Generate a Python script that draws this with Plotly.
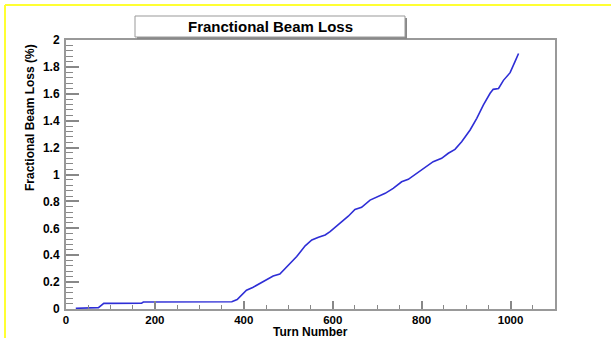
import plotly.graph_objects as go

turns = [22, 50, 73, 85, 120, 170, 174, 250, 330, 373, 385, 391, 399, 406, 420, 436, 451, 466, 481,
         500, 519, 538, 553, 568, 583, 594, 616, 635, 650, 665, 684, 703, 718, 736, 755, 770,
         789, 808, 826, 845, 860, 875, 890, 909, 924, 939, 954, 961, 973, 984, 999, 1010, 1018]
loss = [0.005, 0.006, 0.01, 0.042, 0.042, 0.044, 0.052, 0.052, 0.052, 0.054, 0.07, 0.09, 0.11, 0.14, 0.16, 0.19, 0.215, 0.245, 0.26,
        0.327, 0.39, 0.47, 0.513, 0.533, 0.55, 0.575, 0.637, 0.69, 0.74, 0.756, 0.81, 0.84, 0.86, 0.897, 0.946, 0.964,
        1.009, 1.058, 1.095, 1.12, 1.158, 1.187, 1.244, 1.331, 1.418, 1.517, 1.604, 1.633, 1.64, 1.70, 1.757, 1.839, 1.90]

title_text = "Franctional Beam Loss"
x_title = "Turn Number"
y_title = "Fractional Beam Loss (%)"

W, H = 611, 338
L, R, T, B = 66, 555, 40, 309

def px(x):
    return (x - L) / (R - L)

def py(y):
    return (B - y) / (B - T)

fig = go.Figure()
fig.add_trace(go.Scatter(x=turns, y=loss, mode="lines",
                         line=dict(color="#2e2ed6", width=1.6), hoverinfo="skip"))

font_b = dict(family="Liberation Sans, Arial, sans-serif", size=12, color="black", weight="bold")
font_x = dict(family="Liberation Sans, Arial, sans-serif", size=11.5, color="black", weight="bold")

fig.update_layout(
    width=W, height=H,
    margin=dict(l=L, r=W - R, t=T, b=H - B),
    paper_bgcolor="white", plot_bgcolor="white",
    showlegend=False,
    xaxis=dict(range=[0, 1100], tick0=0, dtick=200, ticks="inside", ticklen=8,
               tickcolor="#888", tickwidth=1.5,
               minor=dict(dtick=50, ticks="inside", ticklen=4, tickcolor="#888", tickwidth=1.2),
               showline=True, linecolor="#999", linewidth=2, mirror=True,
               showgrid=False, zeroline=False, tickfont=font_x, ticklabelstandoff=-1),
    yaxis=dict(range=[0, 2], tick0=0, dtick=0.2, ticks="inside", ticklen=13,
               tickcolor="#888", tickwidth=1.5,
               minor=dict(dtick=0.04, ticks="inside", ticklen=7, tickcolor="#888", tickwidth=1.2),
               showline=True, linecolor="#999", linewidth=2, mirror=True,
               showgrid=False, zeroline=False, tickfont=font_b, ticklabelstandoff=2),
)

shapes = [
    # yellow border lines
    dict(type="line", xref="paper", yref="paper", x0=px(5), x1=px(611), y0=py(5), y1=py(5),
         line=dict(color="#ffff33", width=2)),
    dict(type="line", xref="paper", yref="paper", x0=px(5), x1=px(5), y0=py(5), y1=py(338),
         line=dict(color="#ffff33", width=2)),
    # title box shadow
    dict(type="rect", xref="paper", yref="paper", x0=px(137), x1=px(407), y0=py(39), y1=py(18),
         fillcolor="#888", line=dict(width=0)),
    # title box
    dict(type="rect", xref="paper", yref="paper", x0=px(135), x1=px(405), y0=py(37), y1=py(16),
         fillcolor="white", line=dict(color="#999", width=1)),
]
fig.update_layout(shapes=shapes)

fig.add_annotation(xref="paper", yref="paper", x=px(270), y=py(26.5), text=title_text,
                   showarrow=False, font=dict(family="Liberation Sans, Arial, sans-serif", size=15,
                                              color="black", weight="bold"),
                   xanchor="center", yanchor="middle")
fig.add_annotation(xref="paper", yref="paper", x=px(310), y=py(332.5), text=x_title,
                   showarrow=False, font=font_b, xanchor="center", yanchor="middle",
                   borderpad=0)
fig.add_annotation(xref="paper", yref="paper", x=px(30), y=py(118), text=y_title, textangle=-90,
                   showarrow=False, font=font_b, xanchor="center", yanchor="middle")

fig.write_html("out.html")
